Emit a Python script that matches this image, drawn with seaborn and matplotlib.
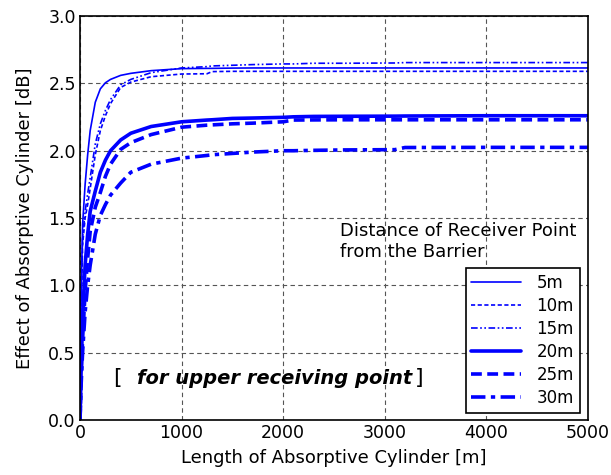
import pandas as pd
import matplotlib.pyplot as plt
import seaborn as sns

length = [0, 10, 25, 50, 75, 100, 150, 200, 250, 300, 400, 500, 700, 1000,
          1250, 1300, 1500, 1700, 2000, 2100, 2300, 2600, 3100, 3200,
          4000, 5000]

effect_5m = [0, 0.9, 1.45, 1.75, 1.97, 2.15, 2.36, 2.46, 2.505, 2.53, 2.56,
             2.575, 2.595, 2.61, 2.612, 2.612, 2.614, 2.615, 2.615, 2.615,
             2.615, 2.615, 2.615, 2.615, 2.615, 2.615]
effect_10m = [0, 0.75, 1.3, 1.5, 1.6, 1.72, 1.97, 2.15, 2.26, 2.35, 2.47,
              2.51, 2.55, 2.57, 2.572, 2.588, 2.59, 2.59, 2.59, 2.59, 2.59,
              2.59, 2.59, 2.59, 2.59, 2.59]
effect_15m = [0, 0.8, 1.35, 1.55, 1.68, 1.8, 2.05, 2.2, 2.3, 2.38, 2.49,
              2.53, 2.58, 2.615, 2.625, 2.63, 2.635, 2.64, 2.645, 2.645,
              2.65, 2.65, 2.652, 2.655, 2.655, 2.655]
effect_20m = [0, 0.35, 0.75, 1.15, 1.38, 1.55, 1.7, 1.84, 1.93, 2.0, 2.08,
              2.13, 2.18, 2.215, 2.228, 2.23, 2.24, 2.243, 2.248, 2.252,
              2.255, 2.256, 2.257, 2.258, 2.26, 2.26]
effect_25m = [0, 0.3, 0.6, 0.95, 1.2, 1.4, 1.58, 1.69, 1.81, 1.9, 2.01,
              2.06, 2.12, 2.175, 2.19, 2.192, 2.2, 2.205, 2.215, 2.228,
              2.229, 2.23, 2.23, 2.23, 2.23, 2.23]
effect_30m = [0, 0.25, 0.5, 0.8, 1.0, 1.15, 1.38, 1.52, 1.6, 1.67, 1.76,
              1.84, 1.9, 1.945, 1.965, 1.97, 1.98, 1.99, 2.0, 2.0, 2.003,
              2.006, 2.008, 2.024, 2.025, 2.025]

labels = ['5m', '10m', '15m', '20m', '25m', '30m']
series = [effect_5m, effect_10m, effect_15m, effect_20m, effect_25m, effect_30m]

frames = [pd.DataFrame({'Length': length, 'Effect': vals, 'Distance': lab})
          for lab, vals in zip(labels, series)]
data = pd.concat(frames, ignore_index=True)

styles = {
    '5m': ('-', 1.2),
    '10m': ((0, (2.5, 1.5)), 1.2),
    '15m': ((0, (4, 1.5, 1, 1.5, 1, 1.5)), 1.2),
    '20m': ('-', 2.6),
    '25m': ((0, (3, 1.5)), 2.6),
    '30m': ((0, (4, 1.5, 1.2, 1.5)), 2.6),
}

sns.set_style('white')
plt.rcParams['font.family'] = ['DejaVu Sans']
plt.rcParams['text.color'] = 'black'
plt.rcParams['axes.labelcolor'] = 'black'
plt.rcParams['xtick.color'] = 'black'
plt.rcParams['ytick.color'] = 'black'

fig = plt.figure(figsize=(6.11, 4.75), dpi=100)
ax = fig.add_axes([0.131, 0.116, 0.831, 0.85])

for lab in labels:
    ls, lw = styles[lab]
    sns.lineplot(x='Length', y='Effect',
                 data=data.loc[data.Distance == lab, :],
                 color='#0000FF', linestyle=ls, linewidth=lw,
                 label=lab, ax=ax)

ax.set_xlim(0, 5000)
ax.set_ylim(0, 3.0)
ax.set_xticks([0, 1000, 2000, 3000, 4000, 5000])
ax.set_yticks([0.0, 0.5, 1.0, 1.5, 2.0, 2.5, 3.0])
ax.set_yticklabels(['0.0', '0.5', '1.0', '1.5', '2.0', '2.5', '3.0'])
ax.grid(True, color='#555555', linestyle=(0, (4, 3)), linewidth=0.8)
ax.tick_params(labelsize=12.5, length=0, pad=3)
for s in ax.spines.values():
    s.set_color('black')
    s.set_linewidth(1.2)

ax.set_xlabel('Length of Absorptive Cylinder [m]', fontsize=13, labelpad=5)
ax.set_ylabel('Effect of Absorptive Cylinder [dB]', fontsize=13, labelpad=10)

ax.text(2560, 1.18, 'Distance of Receiver Point\nfrom the Barrier',
        fontsize=13, linespacing=1.2, va='bottom', ha='left')
ax.text(330, 0.31, '[', fontsize=16, ha='left', va='center')
ax.text(560, 0.31, 'for upper receiving point', fontsize=14,
        fontweight='bold', fontstyle='italic', ha='left', va='center')
ax.text(3380, 0.31, ']', fontsize=16, ha='right', va='center')

leg = ax.legend(loc='lower right', bbox_to_anchor=(0.984, 0.017),
                fontsize=12, frameon=True, fancybox=False, edgecolor='black',
                framealpha=1, handlelength=3.0, handletextpad=0.9,
                labelspacing=0.3, borderpad=0.35, borderaxespad=0)
leg.get_frame().set_linewidth(1.2)

fig.savefig('out.png', dpi=100)
